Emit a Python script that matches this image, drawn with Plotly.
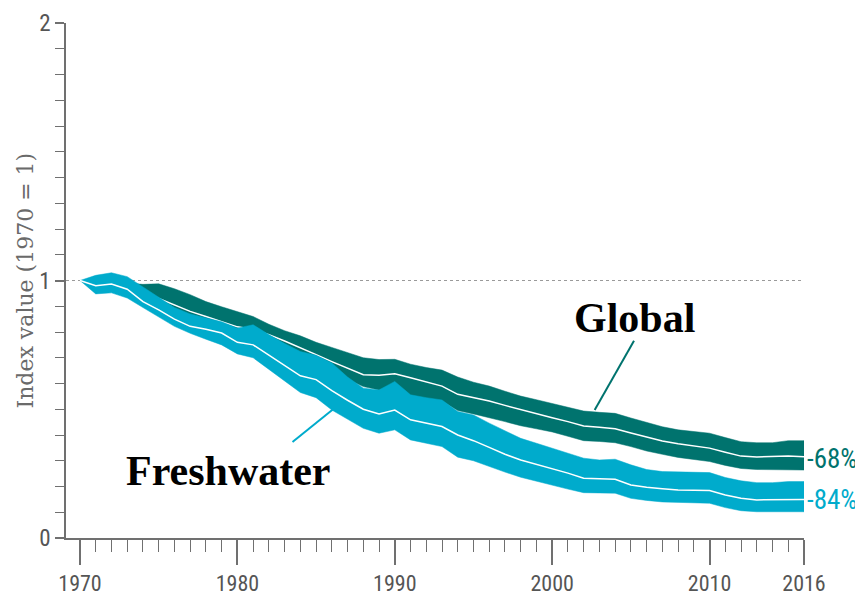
import plotly.graph_objects as go

years = list(range(1970, 2017))

global_mid = [1.000, 0.985, 0.985, 0.965, 0.945, 0.930, 0.905, 0.880, 0.860, 0.840,
              0.820, 0.810, 0.790, 0.765, 0.740, 0.712, 0.685, 0.660, 0.634, 0.632,
              0.638, 0.622, 0.605, 0.590, 0.558, 0.545, 0.532, 0.515, 0.498, 0.482,
              0.467, 0.452, 0.435, 0.430, 0.424, 0.408, 0.392, 0.377, 0.366, 0.357,
              0.349, 0.333, 0.318, 0.315, 0.316, 0.318, 0.316]
global_hi = [1.000, 1.000, 1.000, 0.990, 0.985, 0.987, 0.968, 0.945, 0.918, 0.898,
             0.879, 0.860, 0.830, 0.805, 0.785, 0.760, 0.740, 0.720, 0.700, 0.693,
             0.694, 0.675, 0.662, 0.652, 0.625, 0.605, 0.590, 0.570, 0.551, 0.537,
             0.523, 0.508, 0.493, 0.488, 0.484, 0.466, 0.450, 0.432, 0.420, 0.413,
             0.407, 0.390, 0.374, 0.370, 0.370, 0.378, 0.378]
global_lo = [1.000, 0.965, 0.960, 0.935, 0.910, 0.890, 0.860, 0.835, 0.810, 0.790,
             0.770, 0.755, 0.740, 0.720, 0.700, 0.675, 0.645, 0.615, 0.588, 0.575,
             0.590, 0.550, 0.540, 0.532, 0.495, 0.482, 0.468, 0.452, 0.436, 0.424,
             0.412, 0.395, 0.378, 0.375, 0.370, 0.355, 0.338, 0.325, 0.313, 0.304,
             0.297, 0.282, 0.270, 0.266, 0.266, 0.264, 0.264]

fresh_mid = [1.000, 0.980, 0.986, 0.966, 0.918, 0.886, 0.850, 0.822, 0.811, 0.796,
             0.760, 0.750, 0.710, 0.670, 0.630, 0.615, 0.572, 0.535, 0.500, 0.482,
             0.497, 0.459, 0.445, 0.433, 0.400, 0.378, 0.352, 0.325, 0.303, 0.287,
             0.271, 0.252, 0.232, 0.229, 0.228, 0.206, 0.197, 0.191, 0.186, 0.185,
             0.184, 0.167, 0.154, 0.148, 0.148, 0.150, 0.150]
fresh_hi = [1.000, 1.020, 1.030, 1.015, 0.975, 0.935, 0.895, 0.870, 0.855, 0.840,
            0.815, 0.828, 0.790, 0.755, 0.724, 0.710, 0.680, 0.625, 0.582, 0.575,
            0.608, 0.556, 0.545, 0.536, 0.491, 0.478, 0.446, 0.415, 0.387, 0.368,
            0.349, 0.330, 0.310, 0.303, 0.306, 0.284, 0.266, 0.258, 0.256, 0.255,
            0.254, 0.235, 0.222, 0.215, 0.215, 0.219, 0.219]
fresh_lo = [1.000, 0.948, 0.952, 0.932, 0.895, 0.860, 0.822, 0.795, 0.772, 0.750,
            0.715, 0.700, 0.655, 0.610, 0.565, 0.545, 0.497, 0.460, 0.426, 0.407,
            0.420, 0.381, 0.368, 0.355, 0.314, 0.300, 0.277, 0.256, 0.236, 0.220,
            0.206, 0.190, 0.176, 0.175, 0.174, 0.154, 0.146, 0.140, 0.137, 0.136,
            0.135, 0.118, 0.106, 0.102, 0.102, 0.102, 0.102]

x_tick_vals = [1970, 1980, 1990, 2000, 2010, 2016]
x_tick_text = ["1970", "1980", "1990", "2000", "2010", "2016"]
y_tick_vals = [0, 1, 2]
y_tick_text = ["0", "1", "2"]

series_labels = ["Global", "Freshwater"]
end_labels = ["-68%", "-84%"]

TEAL = "#00736e"
BLUE = "#00abcc"
AXIS = "#707070"
COND = "Liberation Sans Narrow, Roboto Condensed, Arial Narrow, Liberation Sans, Arial, sans-serif"

fig = go.Figure()

def band(lo, hi, mid, color):
    fig.add_trace(go.Scatter(
        x=years + years[::-1], y=hi + lo[::-1], fill="toself", fillcolor=color,
        line=dict(color=color, width=0.5), mode="lines", hoverinfo="skip", showlegend=False))
    fig.add_trace(go.Scatter(
        x=years, y=mid, mode="lines", line=dict(color="white", width=1.5),
        hoverinfo="skip", showlegend=False))

band(global_lo, global_hi, global_mid, TEAL)
band(fresh_lo, fresh_hi, fresh_mid, BLUE)

x0 = 1970 - 14 / 15.74

fig.add_shape(type="line", x0=x0, x1=2016, y0=1, y1=1, xref="x", yref="y",
              line=dict(color="#9a9a9a", width=1, dash="dot"), layer="below")

# leader lines
fig.add_shape(type="line", x0=2005.2, y0=0.766, x1=2002.7, y1=0.497,
              line=dict(color=TEAL, width=2))
fig.add_shape(type="line", x0=1983.5, y0=0.373, x1=1986.1, y1=0.501,
              line=dict(color=BLUE, width=2))

fig.add_annotation(x=2005.2, y=0.855, text="<b>" + series_labels[0] + "</b>", showarrow=False,
                   font=dict(family="Liberation Serif, Times New Roman, serif", size=42, color="black"))
fig.add_annotation(x=1979.4, y=0.262, text="<b>" + series_labels[1] + "</b>", showarrow=False,
                   font=dict(family="Liberation Serif, Times New Roman, serif", size=42, color="black"))

fig.add_annotation(x=2016, y=global_mid[-1], text=end_labels[0], showarrow=False,
                   xanchor="left", xshift=1, yshift=-2,
                   font=dict(family=COND, size=27, color=TEAL))
fig.add_annotation(x=2016, y=fresh_mid[-1], text=end_labels[1], showarrow=False,
                   xanchor="left", xshift=1, yshift=-1,
                   font=dict(family=COND, size=27, color=BLUE))

fig.add_annotation(xref="paper", yref="paper", x=-41 / 738, y=0.5, text="Index value (1970 = 1)",
                   textangle=-90, showarrow=False, xanchor="center", yanchor="middle",
                   font=dict(family="DejaVu Serif, Georgia, serif", size=22, color="#6a6a6a"))

# page has an 8px body margin, so the figure is 8px smaller and margins reduced
fig.update_layout(
    width=855, height=587,
    margin=dict(l=58, r=59, t=15, b=57, autoexpand=False),
    paper_bgcolor="white", plot_bgcolor="white",
    showlegend=False,
    xaxis=dict(range=[x0, 2016], tickvals=x_tick_vals, ticktext=x_tick_text, automargin=False,
               ticks="outside", ticklen=25, tickwidth=1.5, tickcolor=AXIS,
               showline=True, linecolor=AXIS, linewidth=1.5, showgrid=False, zeroline=False,
               minor=dict(tick0=1970, dtick=1, ticks="outside", ticklen=12, tickwidth=1.2,
                          tickcolor=AXIS, showgrid=False),
               tickfont=dict(family=COND, size=22, color="#555555")),
    yaxis=dict(range=[0, 2], tickvals=y_tick_vals, ticktext=y_tick_text, automargin=False,
               ticks="outside", ticklen=9, tickwidth=1.5, tickcolor=AXIS,
               showline=True, linecolor=AXIS, linewidth=1.5, showgrid=False, zeroline=False,
               minor=dict(tick0=0, dtick=0.1, ticks="outside", ticklen=9, tickwidth=1.2,
                          tickcolor=AXIS, showgrid=False),
               tickfont=dict(family=COND, size=23, color="#555555")),
)

fig.write_html("out.html")
